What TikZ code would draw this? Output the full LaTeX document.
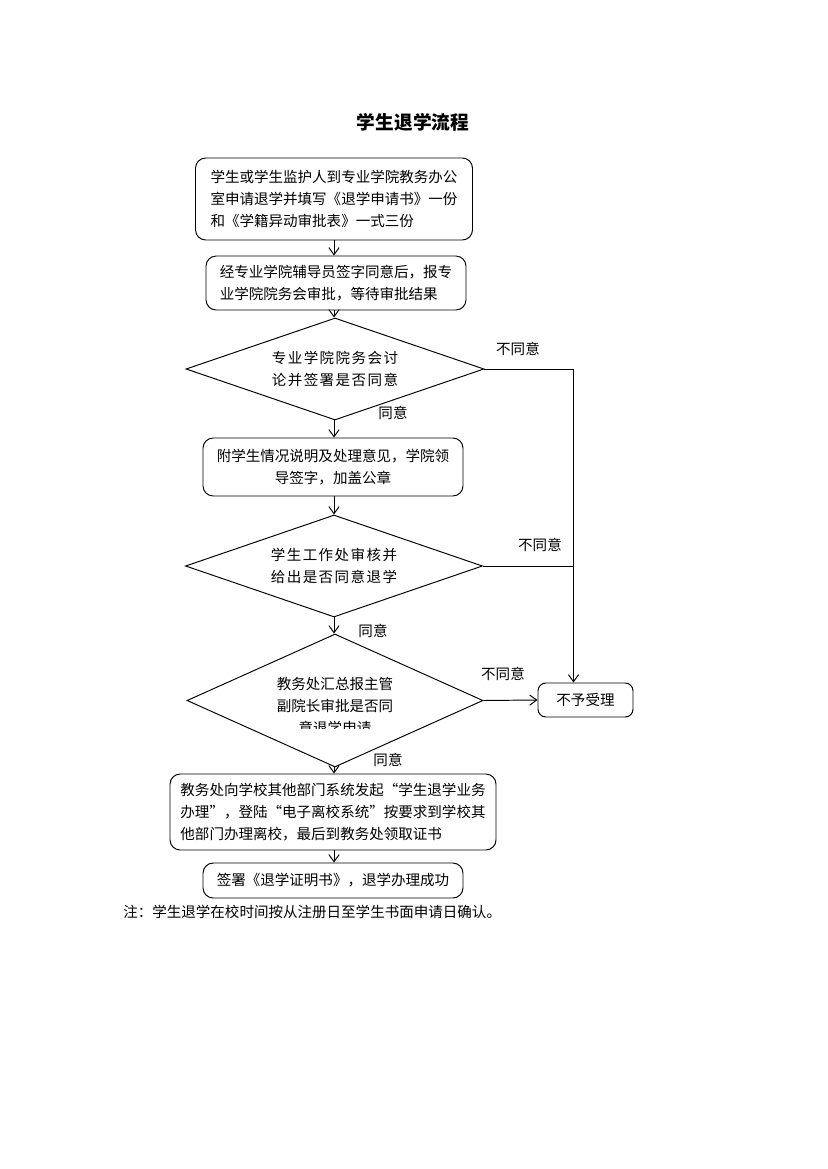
\documentclass[tikz,border=0pt]{standalone}
\usepackage{fontspec}
\setmainfont{Noto Sans CJK SC}
\usepackage{tikz}
\usetikzlibrary{arrows.meta, calc, shapes.geometric}
\newcommand{\pxu}{0.254mm}
\newcommand{\bodyfont}{\fontsize{10.5pt}{16pt}\selectfont}
\tikzset{
  stepbox/.style={
    draw, 
    rounded corners=2.6mm,
    line width=0.7pt,
    align=left,
    inner sep=0pt,
    font=\bodyfont
  },
  decision/.style={
    draw,
    diamond,
    line width=0.7pt,
    inner sep=0pt
  },
  dtext/.style={align=center, inner sep=0pt, font=\bodyfont},
  spaced/.style={font=\bodyfont\addfontfeature{LetterSpace=10}},
  flow/.style={
    -{Straight Barb[length=1.8mm, width=2.6mm]},
    line width=0.7pt
  },
  tag/.style={font=\bodyfont, inner sep=1pt}
}

\begin{document}
\begin{tikzpicture}[x=\pxu, y=-\pxu]
  \useasboundingbox (0,0) rectangle (827,1169);

  % Title
  \node[font=\fontsize{13.5pt}{16pt}\selectfont\bfseries] (title) at (413,122) {学生退学流程};

  % Main column
  \node[stepbox, minimum width=277*\pxu, minimum height=82*\pxu] (apply) at (334,199)
    {学生或学生监护人到专业学院教务办公\\室申请退学并填写《退学申请书》一份\\和《学籍异动审批表》一式三份};
  \node[stepbox, minimum width=260*\pxu, minimum height=54*\pxu] (tutor) at (336,283)
    {经专业学院辅导员签字同意后，报专\\业学院院务会审批，等待审批结果};
  \node[decision, minimum width=298*\pxu, minimum height=102*\pxu] (council) at (335,369) {};
  \node[dtext, spaced] (counciltxt) at (335,369) {专业学院院务会讨\\论并签署是否同意};
  \node[stepbox, align=center, minimum width=260*\pxu, minimum height=58*\pxu] (attach) at (333,467)
    {附学生情况说明及处理意见，学院领\\导签字，加盖公章};
  \node[decision, minimum width=297*\pxu, minimum height=102*\pxu] (affairs) at (334,566) {};
  \node[dtext, spaced] (affairstxt) at (334,566) {学生工作处审核并\\给出是否同意退学};
  \node[decision, minimum width=296*\pxu, minimum height=133*\pxu] (dean) at (335,700.5) {};
  \node[dtext] (deantxt) at (335,695) {教务处汇总报主管\\副院长审批是否同};
  \begin{scope}
    \clip (250,715) rectangle (420,728);
    \node[dtext] (deantail) at (335,728) {意退学申请};
  \end{scope}
  \node[stepbox, minimum width=326*\pxu, minimum height=76*\pxu] (leave) at (333,812)
    {教务处向学校其他部门系统发起“学生退学业务\\办理”，登陆“电子离校系统”按要求到学校其\\他部门办理离校，最后到教务处领取证书};
  \node[stepbox, minimum width=260*\pxu, minimum height=35*\pxu] (done) at (333,880.5)
    {签署《退学证明书》，退学办理成功};

  % Reject
  \node[stepbox, rounded corners=2mm, minimum width=95*\pxu, minimum height=34*\pxu] (reject) at (585.5,700) {不予受理};

  % Note
  \node[anchor=west, font=\bodyfont, inner sep=0pt] (note) at (123,912) {注：学生退学在校时间按从注册日至学生书面申请日确认。};

  % Flow
  \draw[flow] (apply.south) -- (apply.south |- tutor.north);
  \draw[flow] (tutor.south -| apply.south) -- (council.north -| apply.south);
  \draw[flow] (council.south -| apply.south) -- (attach.north -| apply.south);
  \draw[flow] (attach.south -| apply.south) -- (affairs.north -| apply.south);
  \draw[flow] (affairs.south -| apply.south) -- (dean.north -| apply.south);
  \draw[flow] (dean.south -| apply.south) -- (leave.north -| apply.south);
  \draw[flow] (leave.south -| apply.south) -- (done.north -| apply.south);

  % Refusals
  \draw[flow] (council.east) -| ($(reject.north)+(-12,0)$);
  \draw[line width=0.7pt] (affairs.east) -- (affairs.east -| {$(reject.north)+(-12,0)$});
  \draw[flow] (dean.east) -- (reject.west);

  % Labels
  \node[tag] (no1) at (518,349) {不同意};
  \node[tag] (yes1) at (393,413) {同意};
  \node[tag] (no2) at (540,545) {不同意};
  \node[tag] (yes2) at (373,631) {同意};
  \node[tag] (no3) at (503,674) {不同意};
  \node[tag] (yes3) at (388,760) {同意};
\end{tikzpicture}
\end{document}
